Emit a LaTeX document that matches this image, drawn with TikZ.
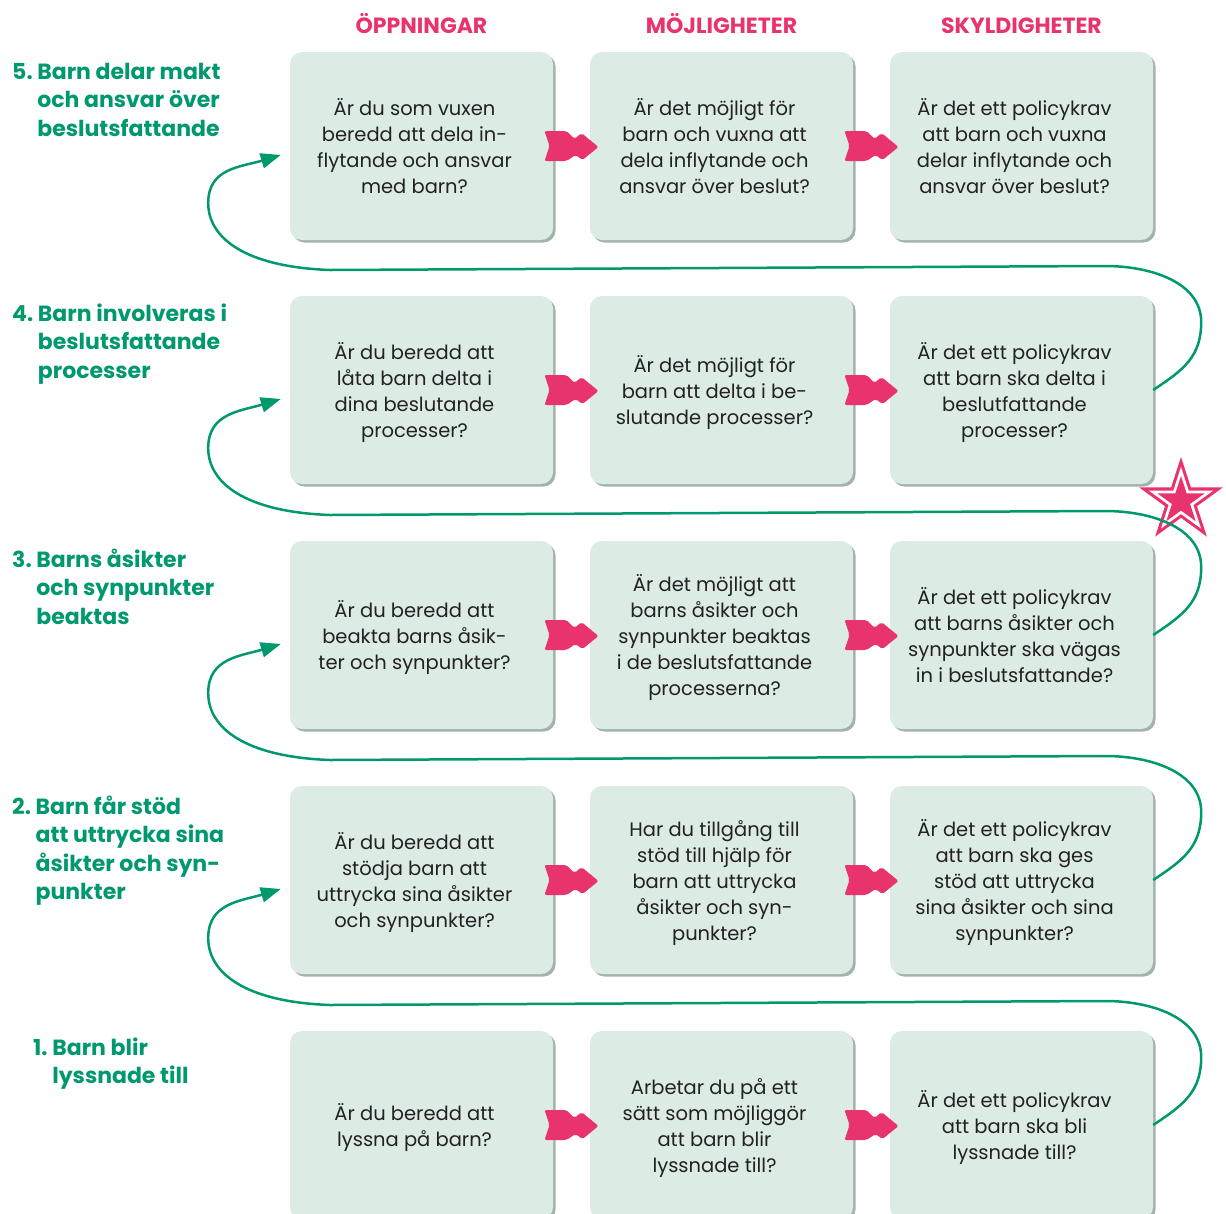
\documentclass[tikz,border=0pt]{standalone}
\usepackage{fontspec}
\setmainfont{Poppins}
\usetikzlibrary{shadows,arrows.meta,calc,shapes.geometric}

\definecolor{gronska}{HTML}{00986F}
\definecolor{rosa}{HTML}{E8336D}
\definecolor{rutfarg}{HTML}{DCEBE4}
\definecolor{skugga}{HTML}{A3B3AB}
\definecolor{brodtext}{HTML}{222222}

% texten i rutorna sitter lite till vänster om mitten
\newcommand{\frag}[1]{\raisebox{0pt}[\dimexpr\height+6pt\relax][\depth]{\begin{tabular}{@{}c@{}}#1\end{tabular}}\hspace*{14pt}}

\tikzset{pil/.pic={
	\fill[rosa, rounded corners=2pt] (-27,-15) -- (-5,-15) -- (3,-7) -- (10,-13) -- (27,1)
		-- (11,14) -- (4,9) -- (-5,15) -- (-27,15) -- (-22,0) -- cycle;
}}

\begin{document}
\begin{tikzpicture}[x=1pt,y=-1pt]
	\tikzstyle{fraga} = [rectangle, rounded corners=12pt, fill=rutfarg, minimum width=263pt, minimum height=188pt, inner sep=0pt, text=brodtext, font=\fontsize{19.5}{26}\selectfont, drop shadow={shadow xshift=2.5pt, shadow yshift=-2.5pt, fill=skugga, opacity=1}]
	\tikzstyle{rubrik} = [text=rosa, font=\fontsize{22}{24}\selectfont\bfseries, anchor=base, inner sep=0pt]
	\tikzstyle{steg} = [text=gronska, font=\fontsize{22}{28.5}\selectfont\bfseries, anchor=base west, inner sep=0pt]
	\tikzstyle{flode} = [draw=gronska, line width=2.5pt, -{Triangle[length=20pt,width=15pt]}]

	\useasboundingbox (0,0) rectangle (1226,1213);
	\clip (0,0) rectangle (1226,1213);

%----------Rubriker------------------------------
	\node[rubrik] (hopp) at (421.5,33) {ÖPPNINGAR};
	\node[rubrik] (hmoj) at (721.5,33) {MÖJLIGHETER};
	\node[rubrik] (hsky) at (1021.5,33) {SKYLDIGHETER};

%----------Steg 5------------------------------
	\node[steg] (l5) at (12,79) {\begin{tabular}[t]{@{}l@{\ }l@{}}5. & Barn delar makt\\ & och ansvar över\\ & beslutsfattande\end{tabular}};
	\node[fraga] (o5) at (421.5,146) {\frag{Är du som vuxen\\beredd att dela in-\\flytande och ansvar\\med barn?}};
	\node[fraga] (m5) at (721.5,146) {\frag{Är det möjligt för\\barn och vuxna att\\dela inflytande och\\ansvar över beslut?}};
	\node[fraga] (s5) at (1021.5,146) {\frag{Är det ett policykrav\\att barn och vuxna\\delar inflytande och\\ansvar över beslut?}};

%----------Steg 4------------------------------
	\node[steg] (l4) at (12,321) {\begin{tabular}[t]{@{}l@{\ }l@{}}4. & Barn involveras i\\ & beslutsfattande\\ & processer\end{tabular}};
	\node[fraga] (o4) at (421.5,390) {\frag{Är du beredd att\\låta barn delta i\\dina beslutande\\processer?}};
	\node[fraga] (m4) at (721.5,390) {\frag{Är det möjligt för\\barn att delta i be-\\slutande processer?}};
	\node[fraga] (s4) at (1021.5,390) {\frag{Är det ett policykrav\\att barn ska delta i\\beslutfattande\\processer?}};

%----------Steg 3------------------------------
	\node[steg] (l3) at (12,567) {\begin{tabular}[t]{@{}l@{\ }l@{}}3. & Barns åsikter\\ & och synpunkter\\ & beaktas\end{tabular}};
	\node[fraga] (o3) at (421.5,635) {\frag{Är du beredd att\\beakta barns åsik-\\ter och synpunkter?}};
	\node[fraga] (m3) at (721.5,635) {\frag{Är det möjligt att\\barns åsikter och\\synpunkter beaktas\\i de beslutsfattande\\processerna?}};
	\node[fraga] (s3) at (1021.5,635) {\frag{Är det ett policykrav\\att barns åsikter och\\synpunkter ska vägas\\in i beslutsfattande?}};

%----------Steg 2------------------------------
	\node[steg] (l2) at (12,814) {\begin{tabular}[t]{@{}l@{\ }l@{}}2. & Barn får stöd\\ & att uttrycka sina\\ & åsikter och syn-\\ & punkter\end{tabular}};
	\node[fraga] (o2) at (421.5,880) {\frag{Är du beredd att\\stödja barn att\\uttrycka sina åsikter\\och synpunkter?}};
	\node[fraga] (m2) at (721.5,880) {\frag{Har du tillgång till\\stöd till hjälp för\\barn att uttrycka\\åsikter och syn-\\punkter?}};
	\node[fraga] (s2) at (1021.5,880) {\frag{Är det ett policykrav\\att barn ska ges\\stöd att uttrycka\\sina åsikter och sina\\synpunkter?}};

%----------Steg 1------------------------------
	\node[steg] (l1) at (33,1055) {\begin{tabular}[t]{@{}l@{\ }l@{}}1. & Barn blir\\ & lyssnade till\end{tabular}};
	\node[fraga] (o1) at (421.5,1125) {\frag{Är du beredd att\\lyssna på barn?}};
	\node[fraga] (m1) at (721.5,1125) {\frag{Arbetar du på ett\\sätt som möjliggör\\att barn blir\\lyssnade till?}};
	\node[fraga] (s1) at (1021.5,1125) {\frag{Är det ett policykrav\\att barn ska bli\\lyssnade till?}};

%----------Pilar mellan rutorna------------------------------
	\foreach \r in {1,...,5} {
		\path ($(o\r.east)!0.5!(m\r.west)$) pic {pil};
		\path ($(m\r.east)!0.5!(s\r.west)$) pic {pil};
	}

%----------Stjärnan------------------------------
	\node[star, star points=5, star point ratio=2.618, minimum size=88pt, inner sep=0pt, fill=rosa] (stjarna) at (1181,501) {};
	\node[star, star points=5, star point ratio=2.618, minimum size=68pt, inner sep=0pt, fill=white] (stjarna2) at (1181,501) {};
	\node[star, star points=5, star point ratio=2.618, minimum size=50pt, inner sep=0pt, fill=rosa] (stjarna3) at (1181,501) {};

%----------Slingor upp till nästa steg------------------------------
	\foreach \lo/\up in {1/2,2/3,3/4,4/5} {
		\coordinate (mal\up) at ($(o\up.west)+(-9,9)$);
		\draw[flode] (s\lo.east) .. controls +(30,-20) and +(0,35) .. ++(48,-68)
			.. controls +(0,-40) and +(45,0) .. ++(-96,-56)
			-- ++(-775,4)
			.. controls +(-85,-3) and +(0,35) .. ++(-122,-67)
			.. controls +(0,-35) and +(-40,12) .. (mal\up);
	}

\end{tikzpicture}
\end{document}
